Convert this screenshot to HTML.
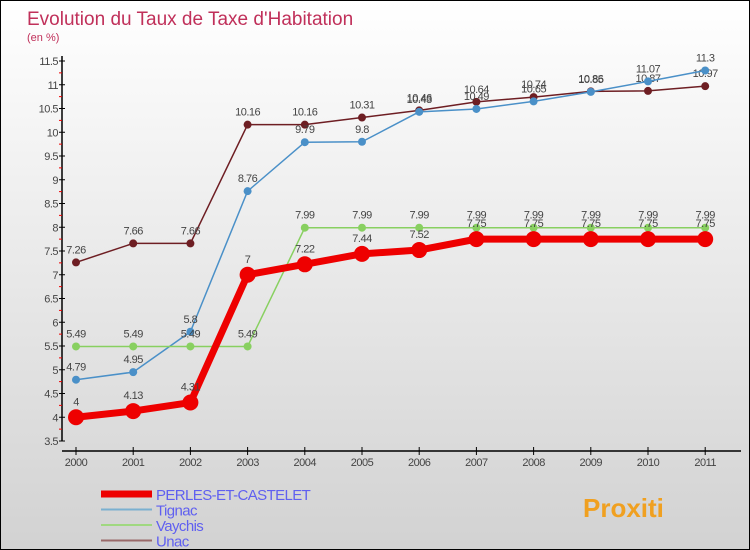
<!DOCTYPE html>
<html><head><meta charset="utf-8"><style>
body{margin:0}
#c{width:750px;height:550px;position:relative;box-sizing:border-box;border:1px solid #000;background:linear-gradient(#ffffff,#d2d2d2);font-family:"Liberation Sans",sans-serif;overflow:hidden}
</style></head><body>
<div id="c">
<svg id="s" width="750" height="550" style="position:absolute;left:0;top:0">
<text x="26" y="24" font-size="19" fill="#c0305a">Evolution du Taux de Taxe d'Habitation</text>
<text x="26" y="40" font-size="11" fill="#c0305a">(en %)</text>
</svg>
</div>
<script>
const years=[2000,2001,2002,2003,2004,2005,2006,2007,2008,2009,2010,2011];
const yTicks=[3.5,4,4.5,5,5.5,6,6.5,7,7.5,8,8.5,9,9.5,10,10.5,11,11.5];
const perles=[4,4.13,4.31,7,7.22,7.44,7.52,7.75,7.75,7.75,7.75,7.75];
const tignac=[4.79,4.95,5.8,8.76,9.79,9.8,10.43,10.49,10.65,10.85,11.07,11.3];
const vaychis=[5.49,5.49,5.49,5.49,7.99,7.99,7.99,7.99,7.99,7.99,7.99,7.99];
const unac=[7.26,7.66,7.66,10.16,10.16,10.31,10.46,10.64,10.74,10.86,10.87,10.97];
const s=document.getElementById('s');const NS='http://www.w3.org/2000/svg';
function X(i){return 75+i*57.2}
function Y(v){return 440-(v-3.5)*47.5}
function mk(t,a,p){const e=document.createElementNS(NS,t);for(const k in a)e.setAttribute(k,a[k]);(p||s).appendChild(e);return e}
let e;
e=mk('line',{x1:61,y1:55,x2:61,y2:440,stroke:'#000','stroke-width':1.5});


e=mk('line',{x1:61,y1:450,x2:740,y2:450,stroke:'#000','stroke-width':1.5});


yTicks.forEach((v,i)=>{
 e=mk('line',{x1:58,y1:Y(v),x2:64,y2:Y(v),stroke:'#000'});
 
 
 if(i<yTicks.length-1){e=mk('line',{x1:58,y1:Y(v+0.25),x2:61,y2:Y(v+0.25),stroke:'#e00'});
 
 }
 e=mk('text',{x:57,y:Y(v)+4,'font-size':11,fill:'#444','text-anchor':'end','letter-spacing':'-0.5'});e.textContent=v;
 
 
});
years.forEach((y,i)=>{
 e=mk('line',{x1:X(i),y1:446,x2:X(i),y2:454,stroke:'#000'});
 
 
 e=mk('text',{x:X(i),y:465,'font-size':11,fill:'#444','text-anchor':'middle','letter-spacing':'-0.5'});e.textContent=y;
 
 
});
function series(d,col,w,r,name,labDy){
 const g=mk('g',{});
 
 
 e=mk('polyline',{points:d.map((v,i)=>X(i)+','+Y(v)).join(' '),fill:'none',stroke:col,'stroke-width':w,'stroke-linejoin':'round'},g);
 
 
 d.forEach((v,i)=>{
  e=mk('circle',{cx:X(i),cy:Y(v),r:r,fill:col},g);
  
  
  e=mk('text',{x:X(i),y:Y(v)-labDy,'font-size':11,fill:'#444','text-anchor':'middle','letter-spacing':'-0.5'},g);e.textContent=v;
  
  
 });
}
series(unac,'#6e1e23',1.5,4,'unac',9);
series(tignac,'#4a90c8',1.5,4,'tignac',9);
series(vaychis,'#88d060',1.5,4,'vaychis',9);
series(perles,'#ee0000',7,8,'perles-et-castelet',12);
const leg=[['PERLES-ET-CASTELET','#ee0000',7],['Tignac','#7ab0d0',2],['Vaychis','#a0d880',2],['Unac','#9a6a6a',2]];
leg.forEach((l,i)=>{
 const y=493+i*15.5;
 e=mk('line',{x1:100,y1:y,x2:151,y2:y,stroke:l[1],'stroke-width':l[2]});
 
 
 e=mk('text',{x:155,y:y+6,'font-size':15,fill:'#6060f0','letter-spacing':'-0.6'});e.textContent=l[0];
 
 
});
e=mk('text',{x:582,y:516,'font-size':26,'font-weight':'bold',fill:'#f0a020'});e.textContent='Proxiti';


</script>
</body></html>
